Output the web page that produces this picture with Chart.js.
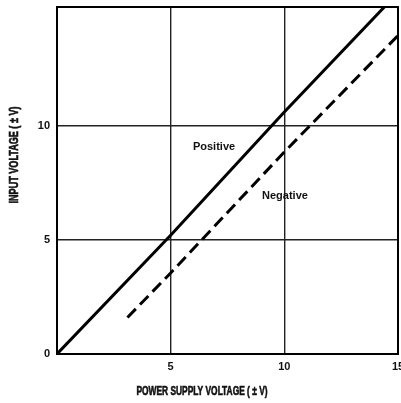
<!DOCTYPE html>
<html>
<head>
<meta charset="utf-8">
<script src="https://cdn.jsdelivr.net/npm/chart.js@4/dist/chart.umd.min.js"></script>
<style>
body{margin:0;background:#fff;}
canvas{display:block;}
</style>
</head>
<body>
<canvas id="cnv" width="401" height="403"></canvas>
<script>
// values
var posX=[0,5,10,14.4];
var posY=[0,5.2,10.6,15.2];
var negX=[3.1,5,10,15];
var negY=[1.6,3.55,8.85,13.95];
var xTicks=[5,10,15];
var yTicks=[0,5,10];
var xTitle="POWER SUPPLY VOLTAGE ( \u00b1 V)";
var yTitle="INPUT VOLTAGE ( \u00b1 V)";
var curveLabels=[{text:"Positive",x:5.98,y:9.08},{text:"Negative",x:9.02,y:6.93}];

var tickFont={family:"'Liberation Sans', Arial, sans-serif",size:11,weight:"bold"};
var titleFont="bold 12px 'Liberation Sans', Arial, sans-serif";

function pts(xs,ys){
	var out=[];
	for(var i=0;i<xs.length;i++) out.push({x:xs[i],y:ys[i]});
	return out;
}

// squeezed text, the original lettering is condensed and heavy
function narrowText(ctx,txt,x,y,w){
	var m=ctx.measureText(txt).width;
	ctx.save();
	ctx.translate(x,y);
	ctx.scale(w/m,1);
	ctx.lineWidth=0.6;
	ctx.strokeStyle=ctx.fillStyle;
	ctx.fillText(txt,0,0);
	ctx.strokeText(txt,0,0);
	ctx.restore();
}

var extras={
	id:"extras",
	afterDraw:function(chart){
		var ctx=chart.ctx, a=chart.chartArea;
		var sx=chart.scales.x, sy=chart.scales.y;
		ctx.save();
		// frame round the plot
		ctx.strokeStyle="#000";
		ctx.lineWidth=2;
		ctx.strokeRect(a.left,a.top,a.right-a.left,a.bottom-a.top);
		// curve names
		ctx.fillStyle="#111";
		ctx.font="bold 11px 'Liberation Sans', Arial, sans-serif";
		ctx.textAlign="left";
		ctx.textBaseline="middle";
		for(var i=0;i<curveLabels.length;i++){
			ctx.fillText(curveLabels[i].text,sx.getPixelForValue(curveLabels[i].x),sy.getPixelForValue(curveLabels[i].y));
		}
		// axis titles
		ctx.font=titleFont;
		ctx.textAlign="center";
		narrowText(ctx,xTitle,202,392,131);
		ctx.translate(15,155);
		ctx.rotate(-Math.PI/2);
		narrowText(ctx,yTitle,0,0,97);
		ctx.restore();
	}
};

var chart=new Chart(document.getElementById("cnv").getContext("2d"),{
	type:"scatter",
	data:{datasets:[
		{label:"Positive",data:pts(posX,posY),showLine:true,borderColor:"#000",borderWidth:3,pointRadius:0,tension:0},
		{label:"Negative",data:pts(negX,negY),showLine:true,borderColor:"#000",borderWidth:3,borderDash:[12,6],pointRadius:0,tension:0}
	]},
	options:{
		responsive:false,
		devicePixelRatio:1,
		animation:false,
		layout:{padding:{top:7,right:3,left:0,bottom:0}},
		plugins:{legend:{display:false},tooltip:{enabled:false}},
		scales:{
			x:{
				type:"linear",min:0,max:15,
				afterBuildTicks:function(s){ s.ticks=xTicks.map(function(v){return {value:v};}); },
				afterFit:function(s){ s.height=49; s.paddingLeft=0; s.paddingRight=0; },
				grid:{color:"#222",lineWidth:1.4,drawTicks:false},
				border:{display:false},
				ticks:{font:tickFont,color:"#111",padding:6,maxRotation:0,autoSkip:false}
			},
			y:{
				type:"linear",min:0,max:15.2,
				afterBuildTicks:function(s){ s.ticks=yTicks.map(function(v){return {value:v};}); },
				afterFit:function(s){ s.width=57; s.paddingTop=0; s.paddingBottom=0; },
				grid:{color:"#222",lineWidth:1.4,drawTicks:false},
				border:{display:false},
				ticks:{font:tickFont,color:"#111",padding:7,autoSkip:false}
			}
		}
	},
	plugins:[extras]
});
</script>
</body>
</html>
